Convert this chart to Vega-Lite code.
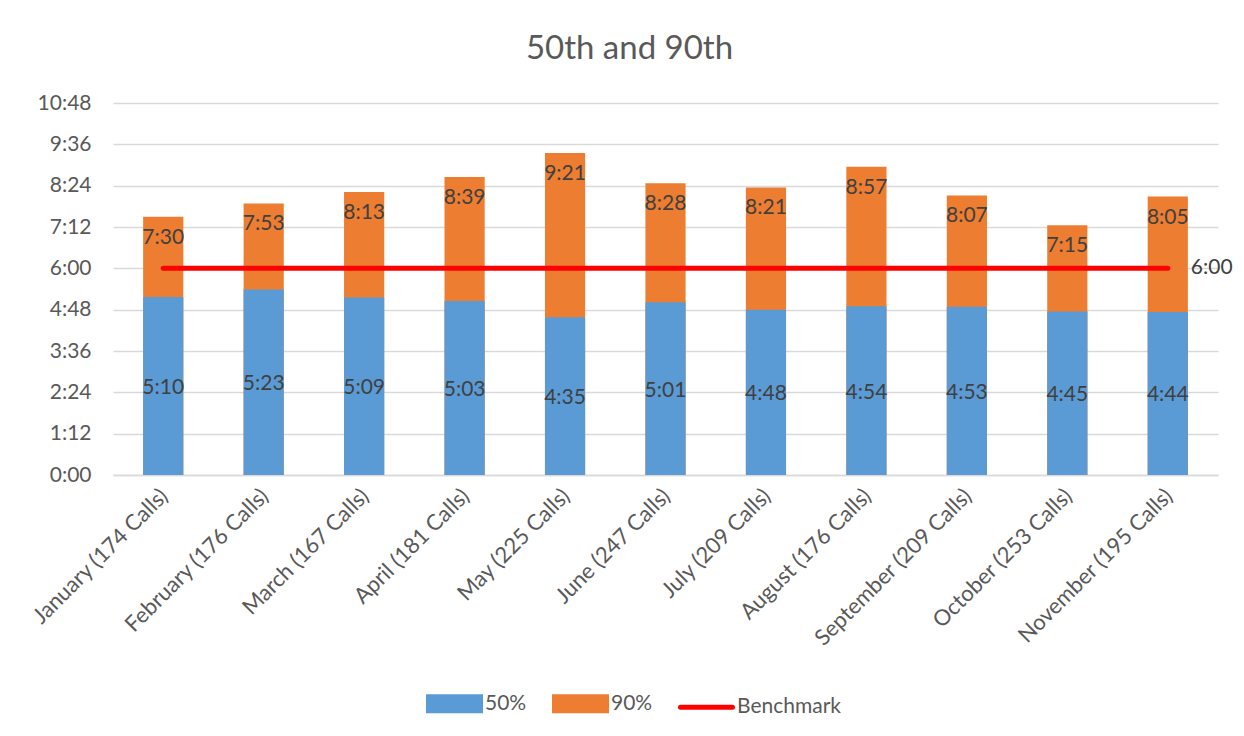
{
  "$schema": "https://vega.github.io/schema/vega-lite/v6.json",
  "width": 1105,
  "height": 372,
  "autosize": "none",
  "padding": {"left": 113, "top": 103, "right": 26, "bottom": 261},
  "background": "white",
  "title": {
    "text": "50th and 90th",
    "font": "Lato",
    "fontSize": 33,
    "fontWeight": "normal",
    "color": "#595959",
    "anchor": "middle",
    "frame": "group",
    "dx": -36,
    "dy": 33,
    "baseline": "alphabetic",
    "offset": 33
  },
  "data": {
    "values": [
      {"month": "January (174 Calls)", "series": "90%", "seconds": 450, "label": "7:30"},
      {"month": "February (176 Calls)", "series": "90%", "seconds": 473, "label": "7:53"},
      {"month": "March (167 Calls)", "series": "90%", "seconds": 493, "label": "8:13"},
      {"month": "April (181 Calls)", "series": "90%", "seconds": 519, "label": "8:39"},
      {"month": "May (225 Calls)", "series": "90%", "seconds": 561, "label": "9:21"},
      {"month": "June (247 Calls)", "series": "90%", "seconds": 508, "label": "8:28"},
      {"month": "July (209 Calls)", "series": "90%", "seconds": 501, "label": "8:21"},
      {"month": "August (176 Calls)", "series": "90%", "seconds": 537, "label": "8:57"},
      {"month": "September (209 Calls)", "series": "90%", "seconds": 487, "label": "8:07"},
      {"month": "October (253 Calls)", "series": "90%", "seconds": 435, "label": "7:15"},
      {"month": "November (195 Calls)", "series": "90%", "seconds": 485, "label": "8:05"},
      {"month": "January (174 Calls)", "series": "50%", "seconds": 310, "label": "5:10"},
      {"month": "February (176 Calls)", "series": "50%", "seconds": 323, "label": "5:23"},
      {"month": "March (167 Calls)", "series": "50%", "seconds": 309, "label": "5:09"},
      {"month": "April (181 Calls)", "series": "50%", "seconds": 303, "label": "5:03"},
      {"month": "May (225 Calls)", "series": "50%", "seconds": 275, "label": "4:35"},
      {"month": "June (247 Calls)", "series": "50%", "seconds": 301, "label": "5:01"},
      {"month": "July (209 Calls)", "series": "50%", "seconds": 288, "label": "4:48"},
      {"month": "August (176 Calls)", "series": "50%", "seconds": 294, "label": "4:54"},
      {"month": "September (209 Calls)", "series": "50%", "seconds": 293, "label": "4:53"},
      {"month": "October (253 Calls)", "series": "50%", "seconds": 285, "label": "4:45"},
      {"month": "November (195 Calls)", "series": "50%", "seconds": 284, "label": "4:44"},
      {"month": "January (174 Calls)", "series": "Benchmark", "seconds": 360, "label": ""},
      {"month": "February (176 Calls)", "series": "Benchmark", "seconds": 360, "label": ""},
      {"month": "March (167 Calls)", "series": "Benchmark", "seconds": 360, "label": ""},
      {"month": "April (181 Calls)", "series": "Benchmark", "seconds": 360, "label": ""},
      {"month": "May (225 Calls)", "series": "Benchmark", "seconds": 360, "label": ""},
      {"month": "June (247 Calls)", "series": "Benchmark", "seconds": 360, "label": ""},
      {"month": "July (209 Calls)", "series": "Benchmark", "seconds": 360, "label": ""},
      {"month": "August (176 Calls)", "series": "Benchmark", "seconds": 360, "label": ""},
      {"month": "September (209 Calls)", "series": "Benchmark", "seconds": 360, "label": ""},
      {"month": "October (253 Calls)", "series": "Benchmark", "seconds": 360, "label": ""},
      {"month": "November (195 Calls)", "series": "Benchmark", "seconds": 360, "label": "6:00"}
    ]
  },
  "encoding": {
    "x": {
      "field": "month",
      "type": "nominal",
      "sort": null,
      "title": null,
      "scale": {"paddingInner": 0.6, "paddingOuter": 0.3},
      "axis": {
        "labelAngle": -45,
        "labelFont": "Lato",
        "labelFontSize": 22,
        "labelColor": "#595959",
        "labelLimit": 400,
        "labelOffset": -6,
        "ticks": false,
        "labelPadding": 10,
        "domainColor": "#D9D9D9",
        "domainWidth": 1.5,
        "grid": false
      }
    }
  },
  "layer": [
    {
      "transform": [{"filter": "datum.series !== 'Benchmark'"}],
      "mark": {"type": "bar"},
      "encoding": {
        "y": {
          "field": "seconds",
          "type": "quantitative",
          "stack": null,
          "title": null,
          "scale": {"domain": [0, 648], "nice": false, "zero": true},
          "axis": {
            "values": [0, 72, 144, 216, 288, 360, 432, 504, 576, 648],
            "labelExpr": "floor(datum.value / 60) + ':' + (datum.value % 60 < 10 ? '0' : '') + (datum.value % 60)",
            "labelFont": "Lato",
            "labelFontSize": 21,
            "labelColor": "#595959",
            "labelPadding": 22,
            "ticks": false,
            "domain": false,
            "grid": true,
            "gridColor": "#D9D9D9",
            "gridWidth": 1.3
          }
        },
        "color": {
          "field": "series",
          "type": "nominal",
          "scale": {"domain": ["50%", "90%", "Benchmark"], "range": ["#5B9BD5", "#ED7D31", "#FF0000"]},
          "legend": {
            "title": null,
            "orient": "none",
            "legendX": 313,
            "legendY": 572,
            "direction": "horizontal",
            "symbolSize": 2704,
            "labelFont": "Lato",
            "labelFontSize": 21,
            "labelColor": "#595959",
            "labelOffset": 2,
            "columnPadding": 17,
            "encode": {
              "symbols": {
                "update": {
                  "shape": {"signal": "datum.value === 'Benchmark' ? 'M-1,0H1' : 'M-1,-0.27H1V0.27H-1Z'"},
                  "fill": {"signal": "datum.value === '50%' ? '#5B9BD5' : (datum.value === '90%' ? '#ED7D31' : 'transparent')"},
                  "stroke": {"signal": "datum.value === 'Benchmark' ? '#FF0000' : 'transparent'"},
                  "strokeWidth": {"value": 5},
                  "strokeCap": {"value": "round"},
                  "opacity": {"value": 1}
                }
              }
            }
          }
        }
      }
    },
    {
      "transform": [{"filter": "datum.series === '90%'"}],
      "mark": {"type": "text", "font": "Lato", "fontSize": 21, "color": "#404040", "baseline": "middle", "dy": 21},
      "encoding": {
        "y": {"field": "seconds", "type": "quantitative", "scale": {"domain": [0, 648], "nice": false}, "axis": null},
        "text": {"field": "label"}
      }
    },
    {
      "transform": [{"filter": "datum.series === '50%'"}],
      "mark": {"type": "text", "font": "Lato", "fontSize": 21, "color": "#404040", "baseline": "middle", "dy": 2},
      "encoding": {
        "y": {"field": "seconds", "type": "quantitative", "scale": {"domain": [0, 1296], "nice": false}, "axis": null},
        "text": {"field": "label"}
      }
    },
    {
      "transform": [{"filter": "datum.series === 'Benchmark'"}],
      "mark": {"type": "line", "strokeWidth": 5, "strokeCap": "round"},
      "encoding": {
        "y": {"field": "seconds", "type": "quantitative", "scale": {"domain": [0, 648], "nice": false}, "axis": null},
        "color": {"field": "series", "type": "nominal"}
      }
    },
    {
      "transform": [{"filter": "datum.series === 'Benchmark' && datum.label !== ''"}],
      "mark": {"type": "text", "font": "Lato", "fontSize": 21, "color": "#404040", "baseline": "middle", "align": "left", "dx": 23},
      "encoding": {
        "y": {"field": "seconds", "type": "quantitative", "scale": {"domain": [0, 648], "nice": false}, "axis": null},
        "text": {"field": "label"}
      }
    }
  ],
  "resolve": {"scale": {"y": "independent"}},
  "config": {"view": {"stroke": null}}
}
